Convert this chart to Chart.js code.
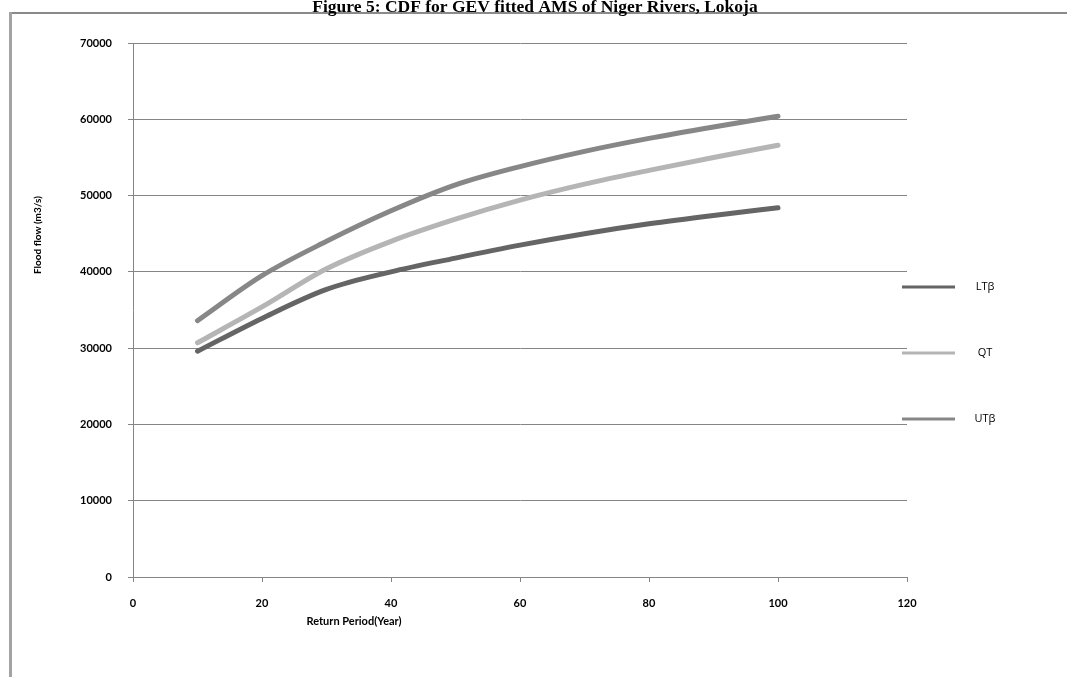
<!DOCTYPE html>
<html>
<head>
<meta charset="utf-8">
<script src="https://cdn.jsdelivr.net/npm/chart.js@4.4.1/dist/chart.umd.min.js"></script>
<style>
  html, body { margin: 0; padding: 0; background: #ffffff; }
  #wrap { position: relative; width: 1067px; height: 677px; }
</style>
</head>
<body>
<div id="wrap"><canvas id="c" width="1067" height="677"></canvas></div>
<script>
// Return periods (years) and the fitted flood quantiles with their bounds (m3/s)
const returnPeriods = [10, 20, 30, 40, 50, 60, 70, 80, 90, 100];
const lowerBound   = [29600, 33900, 37700, 40000, 41800, 43500, 45000, 46300, 47400, 48400];   // LTβ
const quantile     = [30700, 35400, 40400, 44000, 46900, 49400, 51500, 53300, 55000, 56600];   // QT
const upperBound   = [33600, 39500, 44000, 48000, 51400, 53800, 55800, 57500, 59000, 60400];   // UTβ

const seriesNames  = ['LTβ', 'QT', 'UTβ'];
const seriesColors = ['#656565', '#b5b5b5', '#878787'];

const xTicks = [0, 20, 40, 60, 80, 100, 120];
const yTicks = [0, 10000, 20000, 30000, 40000, 50000, 60000, 70000];

const titleText  = 'Figure 5: CDF for GEV fitted AMS of Niger Rivers, Lokoja';
const xAxisTitle = 'Return Period(Year)';
const yAxisTitle = 'Flood flow (m3/s)';

const toPoints = vals => returnPeriods.map((t, i) => ({ x: t, y: vals[i] }));

const datasets = [lowerBound, quantile, upperBound].map((vals, i) => ({
  label: seriesNames[i],
  data: toPoints(vals),
  borderColor: seriesColors[i],
  backgroundColor: seriesColors[i],
  borderWidth: 5,
  borderCapStyle: 'round',
  borderJoinStyle: 'round',
  pointRadius: 0,
  pointHoverRadius: 0,
  fill: false,
  cubicInterpolationMode: 'monotone'
}));

const tickFont = { family: 'Lato', size: 11, weight: 'bold' };

// Frame, title, axis titles and the right-hand key
const decorations = {
  id: 'decorations',
  afterDraw(chart) {
    const ctx = chart.ctx;
    ctx.save();
    // outer frame (top and left edges)
    ctx.strokeStyle = '#8a8a8a';
    ctx.lineWidth = 2;
    ctx.beginPath();
    ctx.moveTo(9, 13); ctx.lineTo(1067, 13);
    ctx.stroke();
    ctx.strokeStyle = '#a3a3a3';
    ctx.lineWidth = 3;
    ctx.beginPath();
    ctx.moveTo(10.5, 12); ctx.lineTo(10.5, 677);
    ctx.stroke();

    // title
    ctx.fillStyle = '#000000';
    ctx.font = 'bold 17.5px "Liberation Serif"';
    ctx.textAlign = 'center';
    ctx.textBaseline = 'alphabetic';
    ctx.fillText(titleText, 535, 12);

    // x axis title
    ctx.font = 'bold 11px Lato';
    ctx.textBaseline = 'middle';
    ctx.fillText(xAxisTitle, 354, 621);

    // y axis title
    ctx.save();
    ctx.translate(38, 235);
    ctx.rotate(-Math.PI / 2);
    ctx.font = 'bold 10px Lato';
    ctx.fillText(yAxisTitle, 0, 0);
    ctx.restore();

    // key
    const keyY = [287, 353, 419];
    chart.data.datasets.forEach((ds, i) => {
      ctx.strokeStyle = ds.borderColor;
      ctx.lineWidth = 3;
      ctx.lineCap = 'butt';
      ctx.beginPath();
      ctx.moveTo(902, keyY[i]); ctx.lineTo(955, keyY[i]);
      ctx.stroke();
      ctx.fillStyle = '#000000';
      ctx.font = '11px "Open Sans"';
      ctx.textAlign = 'center';
      ctx.fillText(ds.label, 985, keyY[i]);
    });
    ctx.restore();
  }
};

new Chart(document.getElementById('c'), {
  type: 'line',
  data: { datasets },
  plugins: [decorations],
  options: {
    responsive: false,
    animation: false,
    devicePixelRatio: 1,
    layout: { padding: { left: 0, top: 43, right: 160, bottom: 60 } },
    plugins: {
      legend: { display: false },
      tooltip: { enabled: false }
    },
    scales: {
      x: {
        type: 'linear',
        min: 0, max: 120,
        afterBuildTicks: s => { s.ticks = xTicks.map(v => ({ value: v })); },
        afterFit: s => { s.height = 40; },
        grid: { drawOnChartArea: false, drawTicks: true, tickLength: 5, color: '#858585', lineWidth: 1 },
        border: { display: true, color: '#858585', width: 1 },
        ticks: { color: '#000000', font: tickFont, padding: 15, maxRotation: 0 }
      },
      y: {
        type: 'linear',
        min: 0, max: 70000,
        afterBuildTicks: s => { s.ticks = yTicks.map(v => ({ value: v })); },
        afterFit: s => { s.width = 133; },
        grid: { drawOnChartArea: true, drawTicks: true, tickLength: 5, color: '#858585', lineWidth: 1 },
        border: { display: true, color: '#858585', width: 1 },
        ticks: { color: '#000000', font: tickFont, padding: 16, callback: v => String(v) }
      }
    }
  }
});
</script>
</body>
</html>
